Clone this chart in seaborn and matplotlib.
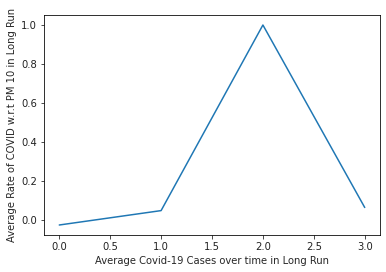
import matplotlib
matplotlib.use("Agg")
import matplotlib.pyplot as plt
import seaborn as sns
import pandas as pd

x_vals = [0, 1, 2, 3]
y_vals = [-0.028, 0.046, 1.0, 0.062]

sns.set_style("ticks")
plt.rcParams['font.family'] = ['DejaVu Sans']
plt.rcParams['font.size'] = 10

fig = plt.figure(figsize=(386/72, 272/72), dpi=72)
ax = fig.add_axes([44/386, 1 - 235/272, (380-44)/386, (235-15)/272])
df = pd.DataFrame({"x": x_vals, "y": y_vals})
sns.lineplot(data=df, x="x", y="y", ax=ax, color="#1f77b4", linewidth=1.5)
ax.set_xlabel("Average Covid-19 Cases over time in Long Run", fontsize=10)
ax.set_ylabel("Average Rate of COVID w.r.t PM 10 in Long Run", fontsize=10)
ax.set_xticks([0, 0.5, 1, 1.5, 2, 2.5, 3])
ax.set_yticks([0, 0.2, 0.4, 0.6, 0.8, 1.0])
ax.tick_params(labelsize=10, length=3.5, width=0.8, colors="#222222")
for s in ax.spines.values():
    s.set_visible(True)
    s.set_linewidth(0.8)
    s.set_color("black")
fig.savefig("out.png", dpi=72)
